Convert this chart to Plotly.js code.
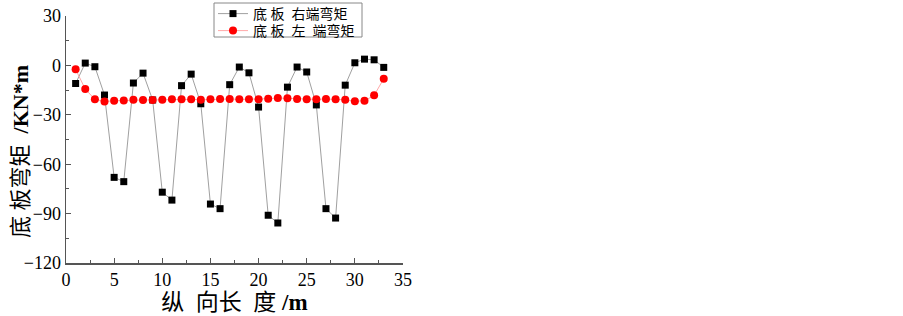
<!DOCTYPE html>
<html><head><meta charset="utf-8">
<script src="https://cdn.plot.ly/plotly-3.0.1.min.js"></script>
<style>html,body{margin:0;padding:0;background:#fff;}#c{width:903px;height:316px;}</style>
</head><body><div id="c"></div>
<script>
const xPos = [1,2,3,4,5,6,7,8,9,10,11,12,13,14,15,16,17,18,19,20,21,22,23,24,25,26,27,28,29,30,31,32,33];
const rightMoment = [-11,1.4,-0.8,-18,-68,-70.6,-10.7,-4.7,-21,-77,-81.8,-12.3,-5.3,-23.3,-84.2,-87,-11.7,-1,-4.5,-25.3,-91,-95.7,-13.2,-1,-4,-24,-87,-92.7,-12,1.6,3.8,3.4,-1.2];
const leftMoment = [-2.4,-14.4,-20.6,-21.9,-21.5,-21.3,-20.9,-21,-21,-20.9,-20.6,-20.6,-20.6,-20.9,-20.6,-20.4,-20.4,-20.6,-20.6,-20.6,-20.2,-19.8,-20,-20.4,-20.6,-20.6,-20.4,-20.6,-20.9,-21.7,-21.5,-18.2,-8.1];
const seriesNames = ['底 板  右端弯矩','底 板  左  端弯矩'];
const xTicks = [0,5,10,15,20,25,30,35];
const yTicks = [30,0,-30,-60,-90,-120];
const xTitle = '纵  向长  度 <b>/m</b>';
const yTitle = '底 板弯矩  <b>/KN*m</b>';
const fam = "'Liberation Serif','Noto Sans CJK SC',serif";
const data = [
  {x:xPos,y:rightMoment,name:seriesNames[0],mode:'lines+markers',type:'scatter',legend:'legend',
   line:{color:'#a0a0a0',width:1},marker:{symbol:'square',size:7,color:'#000'}},
  {x:xPos,y:leftMoment,name:seriesNames[1],mode:'lines+markers',type:'scatter',legend:'legend2',
   line:{color:'#ffa8a8',width:1},marker:{symbol:'circle',size:8,color:'#ff0000'}}
];
const axCommon = {showgrid:false,zeroline:false,showline:true,linecolor:'#555',linewidth:1.5,
  ticks:'inside',ticklen:5,tickwidth:1,tickcolor:'#555',
  tickfont:{family:fam,size:18,color:'#000'}};
// plot area: x 66..403 px, y 16..263 px
const px = v => (v-66)/337, py = v => (263-v)/247;
const legCommon = {xanchor:'left',yanchor:'top',borderwidth:0,bgcolor:'rgba(255,255,255,0)',
  font:{family:fam,size:14,color:'#000'}};
const layout = {
  width:903,height:316,paper_bgcolor:'#fff',plot_bgcolor:'#fff',
  margin:{l:66,r:500,t:16,b:53,autoexpand:false},
  showlegend:true,
  legend:Object.assign({},legCommon,{x:px(213),y:py(-2)}),
  legend2:Object.assign({},legCommon,{x:px(213),y:py(15)}),
  shapes:[{type:'rect',xref:'paper',yref:'paper',x0:px(214),x1:px(362),y0:py(37),y1:py(3),
    line:{color:'#888',width:1},fillcolor:'rgba(0,0,0,0)'}],
  annotations:[{text:yTitle,xref:'paper',yref:'paper',x:px(20),y:py(152),xanchor:'center',yanchor:'middle',
    textangle:-90,showarrow:false,font:{family:fam,size:22,color:'#000'}}],
  xaxis:Object.assign({},axCommon,{range:[0,35],tickvals:xTicks,
    minor:{ticks:'inside',ticklen:3,tickcolor:'#555',dtick:2.5,tick0:0},
    title:{text:xTitle,font:{family:fam,size:23,color:'#000'},standoff:2}}),
  yaxis:Object.assign({},axCommon,{range:[-120,30],tickvals:yTicks,
    minor:{ticks:'inside',ticklen:3,tickcolor:'#555',dtick:15,tick0:0}})
};
Plotly.newPlot('c',data,layout,{staticPlot:true,displayModeBar:false});
</script></body></html>
